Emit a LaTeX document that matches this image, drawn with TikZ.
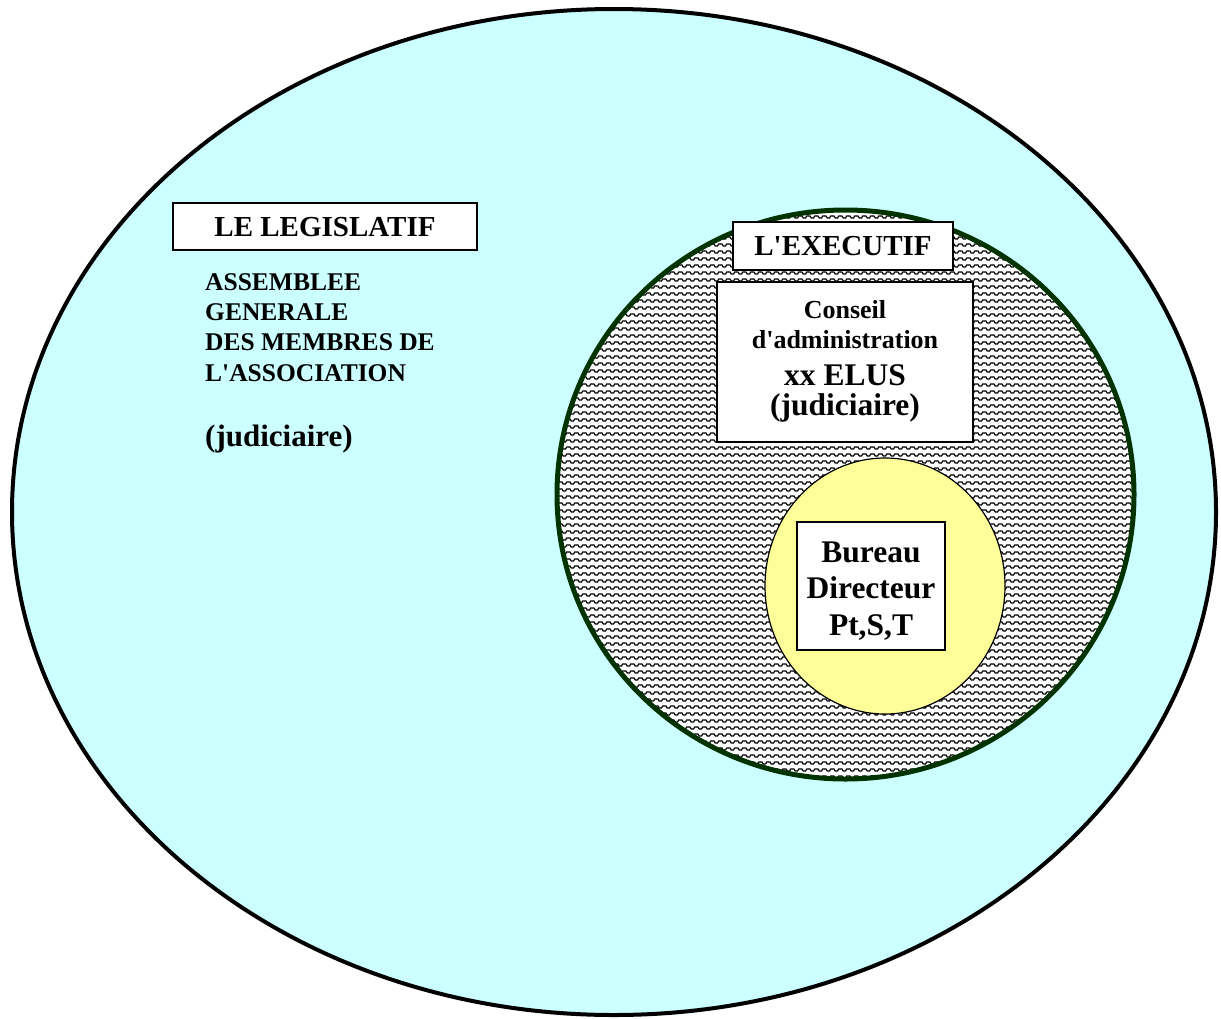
\documentclass[tikz,border=0pt]{standalone}
\usepackage{fontspec}
\setmainfont{Liberation Serif}[Ligatures=TeXOff]
\usetikzlibrary{patterns,shapes.geometric}
\definecolor{cyanbg}{HTML}{CCFFFF}
\definecolor{execgreen}{HTML}{003300}
\definecolor{bureauyellow}{HTML}{FFFF99}
\pgfdeclarepatternformonly{waves}{\pgfqpoint{-1pt}{-1pt}}{\pgfqpoint{9pt}{8pt}}{\pgfqpoint{8pt}{7pt}}{%
  \pgfsetlinewidth{1.2pt}%
  \pgfpathmoveto{\pgfqpoint{0pt}{4pt}}%
  \pgfpathlineto{\pgfqpoint{2pt}{4pt}}%
  \pgfpathlineto{\pgfqpoint{3.2pt}{2pt}}%
  \pgfpathlineto{\pgfqpoint{5.5pt}{2pt}}%
  \pgfpathlineto{\pgfqpoint{6.7pt}{4pt}}%
  \pgfpathlineto{\pgfqpoint{8pt}{4pt}}%
  \pgfusepath{stroke}}
\tikzset{
  titlebox/.style={draw, line width=1.8pt, fill=white, inner sep=0pt},
  plaintext/.style={inner sep=0pt},
}
\begin{document}
\begin{tikzpicture}[x=1pt,y=-1pt]
\useasboundingbox (0,0) rectangle (1221,1018);
\node[ellipse, draw, line width=4pt, fill=cyanbg, minimum width=1204pt, minimum height=1006pt, inner sep=0pt] (assembly) at (614,512) {};
\node[ellipse, draw=execgreen, line width=5pt, preaction={fill=white}, pattern=waves, minimum width=577pt, minimum height=569pt, inner sep=0pt] (executive) at (845.5,494.5) {};
\node[ellipse, draw, line width=1.2pt, fill=bureauyellow, minimum width=240pt, minimum height=256pt, inner sep=0pt] (bureaucircle) at (885,586) {};
\node[titlebox, minimum width=304pt, minimum height=47pt, text height=19pt, text depth=0pt, font=\bfseries\fontsize{29}{30}\selectfont] (legislatif) at (325,226.5) {LE LEGISLATIF};
\node[plaintext, anchor=base west, align=left, font=\bfseries\fontsize{25.5}{30.2}\selectfont] (assemblee) at (205,381) {ASSEMBLEE\\GENERALE\\DES MEMBRES DE\\L'ASSOCIATION};
\node[plaintext, anchor=base west, font=\bfseries\fontsize{31}{30}\selectfont] (judleg) at (205,446) {(judiciaire)};
\node[titlebox, minimum width=220pt, minimum height=48pt, text height=19pt, text depth=0pt, font=\bfseries\fontsize{29}{30}\selectfont] (executif) at (843,246) {L'EXECUTIF};
\node[titlebox, minimum width=256pt, minimum height=160pt] (conseil) at (845,362) {};
\node[plaintext, align=center, anchor=base, font=\bfseries\fontsize{26}{30}\selectfont] (conseiltext) at (845,348) {Conseil\\d'administration};
\node[plaintext, align=center, anchor=base, font=\bfseries\fontsize{31.5}{30}\selectfont] (elus) at (845,415) {xx ELUS\\(judiciaire)};
\node[titlebox, minimum width=148pt, minimum height=128pt] (bureau) at (871,586) {};
\node[plaintext, align=center, anchor=base, font=\bfseries\fontsize{31.5}{36.5}\selectfont] (bureautext) at (871,635) {Bureau\\Directeur\\Pt,S,T};
\end{tikzpicture}
\end{document}
